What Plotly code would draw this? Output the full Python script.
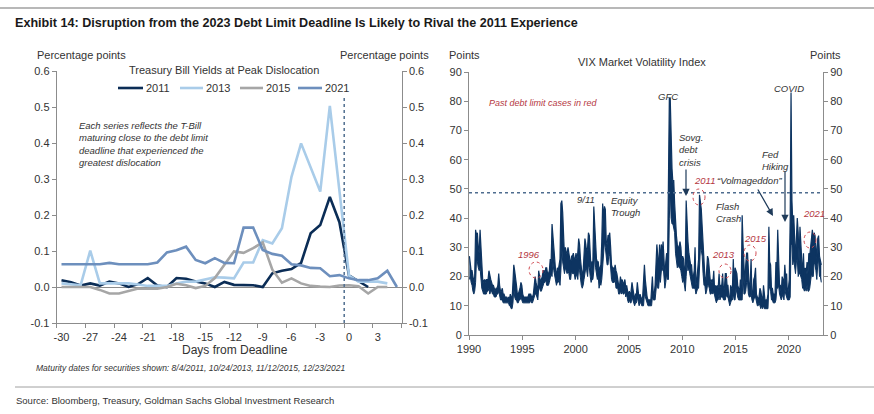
import plotly.graph_objects as go
import pandas as pd

# ---------------- data: left panel (T-bill yields, percentage points) ----------------
days = list(range(-30, 6))
y2011 = [0.019, 0.013, 0.004, 0.010, 0.004, 0.015, 0.010, 0.000, 0.008, 0.025, 0.004, 0.000,
         0.025, 0.023, 0.015, 0.010, 0.000, 0.014, 0.006, 0.005, 0.005, 0.000, 0.038, 0.045,
         0.050, 0.067, 0.149, 0.172, 0.250, 0.180, 0.032, 0.016, 0.000, None, None, None]
y2013 = [0.010, 0.007, 0.005, 0.101, 0.010, 0.010, 0.010, 0.010, 0.007, 0.003, 0.003, 0.003,
         0.010, 0.015, 0.015, 0.020, 0.027, 0.026, 0.024, 0.068, 0.068, 0.130, 0.121, 0.163,
         0.306, 0.399, 0.332, 0.265, 0.503, 0.270, 0.032, 0.015, 0.014, 0.015, 0.010, None]
y2015 = [0.000, 0.000, -0.002, 0.000, -0.008, -0.018, -0.018, -0.010, -0.004, -0.005, -0.005, 0.000,
         0.009, 0.005, -0.003, 0.003, 0.025, 0.062, 0.099, 0.095, 0.108, 0.124, 0.048, 0.012,
         0.024, 0.010, 0.003, 0.001, 0.000, 0.004, 0.005, 0.002, -0.018, 0.000, 0.000, None]
y2021 = [0.063, 0.063, 0.063, 0.064, 0.063, 0.067, 0.063, 0.063, 0.064, 0.063, 0.068, 0.096,
         0.102, 0.112, 0.075, 0.066, 0.080, 0.067, 0.066, 0.165, 0.165, 0.103, 0.092, 0.087,
         0.063, 0.060, 0.053, 0.052, 0.030, 0.033, 0.024, 0.019, 0.019, 0.024, 0.045, 0.000]
series_names = ["2011", "2013", "2015", "2021"]
left_ticks = list(range(-30, 4, 3))
left_tick_labels = ["-30", "-27", "-24", "-21", "-18", "-15", "-12", "-9", "-6", "-3", "0", "3"]
left_yticks = [-0.1, 0.0, 0.1, 0.2, 0.3, 0.4, 0.5, 0.6]
left_ytick_labels = ["-0.1", "0.0", "0.1", "0.2", "0.3", "0.4", "0.5", "0.6"]

# ---------------- data: right panel (VIX monthly high / low, from Jan 1990) ----------------
vix_high = [
    27, 25, 22, 22, 19, 18, 20, 36, 34, 35, 30, 28,   # 1990
    36, 28, 21, 19, 18, 19, 18, 19, 19, 19, 22, 20,   # 1991
    19, 18, 17, 17, 16, 15, 16, 16, 17, 21, 17, 15,   # 1992
    15, 16, 14, 14, 13, 13, 13, 12, 13, 12, 14, 13,   # 1993
    12, 18, 24, 22, 18, 17, 14, 14, 15, 16, 18, 17,   # 1994
    14, 13, 13, 13, 13, 13, 13, 14, 14, 14, 13, 13,   # 1995
    14, 19, 20, 18, 16, 15, 22, 20, 18, 19, 20, 22,   # 1996
    22, 21, 23, 23, 21, 21, 22, 26, 25, 38, 33, 27,   # 1997
    26, 22, 20, 23, 22, 24, 26, 45, 46, 42, 30, 27,   # 1998
    30, 28, 28, 30, 28, 25, 24, 27, 27, 28, 26, 26,   # 1999
    28, 26, 28, 33, 31, 26, 21, 20, 22, 31, 33, 31,   # 2000
    28, 30, 35, 34, 26, 22, 25, 25, 44, 36, 30, 26,   # 2001
    25, 25, 22, 23, 24, 32, 45, 40, 44, 43, 32, 31,   # 2002
    34, 34, 35, 30, 24, 23, 23, 22, 24, 22, 21, 19,   # 2003
    17, 17, 20, 18, 19, 17, 18, 19, 16, 17, 15, 14,   # 2004
    15, 13, 15, 18, 16, 13, 12, 14, 14, 18, 15, 12,   # 2005
    14, 13, 12, 13, 19, 24, 19, 15, 13, 12, 12, 12,   # 2006
    11, 18, 20, 14, 14, 17, 24, 31, 27, 22, 31, 25,   # 2007
    31, 28, 32, 26, 20, 25, 28, 24, 47, 81, 81, 61,   # 2008
    57, 52, 53, 45, 37, 34, 31, 30, 30, 32, 30, 25,   # 2009
    27, 26, 20, 24, 46, 36, 32, 28, 26, 24, 24, 20,   # 2010
    20, 22, 30, 17, 19, 22, 26, 48, 45, 43, 37, 30,   # 2011
    22, 20, 17, 21, 27, 26, 21, 19, 18, 19, 18, 22,   # 2012
    15, 17, 16, 17, 16, 21, 16, 17, 17, 21, 15, 16,   # 2013
    21, 21, 17, 17, 13, 12, 17, 16, 16, 26, 17, 23,   # 2014
    22, 21, 17, 16, 14, 19, 17, 41, 31, 24, 17, 24,   # 2015
    28, 28, 20, 16, 17, 26, 14, 14, 19, 20, 23, 14,   # 2016
    13, 12, 13, 16, 15, 12, 11, 17, 12, 11, 12, 12,   # 2017
    14, 37, 25, 24, 16, 16, 14, 14, 14, 25, 22, 36,   # 2018
    28, 17, 17, 14, 20, 19, 17, 24, 19, 21, 13, 16,   # 2019
    19, 40, 83, 46, 38, 41, 30, 26, 33, 40, 35, 25,   # 2020
    37, 28, 26, 20, 28, 19, 23, 21, 25, 21, 28, 27,   # 2021
    31, 33, 36, 33, 35, 34, 28, 26, 33, 34, 27, 25,   # 2022
    24,                                               # 2023
]
vix_low = [
    19, 20, 18, 17, 15, 14, 15, 18, 26, 25, 23, 22,   # 1990
    23, 18, 16, 15, 14, 14, 14, 14, 15, 15, 16, 14,   # 1991
    15, 15, 14, 14, 13, 13, 13, 14, 14, 15, 13, 12,   # 1992
    12, 12, 11, 11, 11, 11, 11, 11, 11, 10, 10, 9,    # 1993
    9, 11, 16, 13, 12, 12, 11, 11, 12, 12, 13, 12,    # 1994
    11, 11, 11, 11, 11, 11, 11, 11, 11, 12, 11, 11,   # 1995
    12, 13, 14, 14, 13, 12, 16, 16, 15, 15, 16, 17,   # 1996
    18, 18, 19, 17, 17, 17, 18, 20, 21, 20, 25, 22,   # 1997
    20, 18, 17, 18, 18, 19, 17, 22, 30, 25, 23, 21,   # 1998
    23, 22, 21, 22, 21, 19, 19, 22, 21, 21, 21, 19,   # 1999
    20, 21, 19, 23, 22, 18, 17, 16, 17, 19, 22, 23,   # 2000
    22, 20, 24, 23, 20, 18, 19, 19, 22, 28, 23, 20,   # 2001
    19, 20, 16, 18, 17, 19, 24, 27, 32, 30, 25, 24,   # 2002
    24, 28, 27, 22, 19, 18, 18, 18, 19, 16, 16, 16,   # 2003
    14, 14, 15, 14, 15, 14, 14, 15, 13, 14, 12, 11,   # 2004
    12, 11, 11, 13, 12, 11, 10, 11, 11, 13, 11, 10,   # 2005
    11, 11, 10, 10, 10, 14, 13, 12, 11, 10, 10, 10,   # 2006
    10, 10, 13, 12, 12, 12, 15, 19, 16, 16, 20, 18,   # 2007
    22, 22, 24, 18, 16, 18, 21, 19, 19, 40, 50, 40,   # 2008
    38, 38, 37, 35, 28, 26, 23, 24, 23, 23, 22, 20,   # 2009
    18, 19, 16, 15, 20, 25, 22, 23, 21, 19, 18, 16,   # 2010
    16, 16, 16, 14, 15, 16, 16, 22, 30, 29, 27, 21,   # 2011
    17, 17, 14, 15, 17, 17, 16, 14, 14, 15, 14, 15,   # 2012
    13, 12, 11, 12, 12, 14, 12, 13, 13, 13, 12, 12,   # 2013
    12, 14, 13, 13, 11, 10, 11, 12, 12, 14, 12, 12,   # 2014
    16, 14, 13, 12, 12, 12, 12, 12, 21, 14, 14, 15,   # 2015
    18, 18, 14, 13, 13, 14, 12, 11, 12, 13, 13, 11,   # 2016
    10, 10, 11, 10, 9, 10, 9, 10, 9, 9, 9, 9,         # 2017
    9, 17, 16, 15, 12, 12, 11, 11, 11, 12, 16, 16,    # 2018
    17, 14, 13, 12, 13, 14, 12, 16, 14, 13, 12, 12,   # 2019
    12, 13, 31, 31, 24, 26, 24, 21, 25, 26, 20, 21,   # 2020
    21, 20, 19, 16, 16, 15, 16, 15, 17, 15, 15, 16,   # 2021
    18, 21, 20, 20, 25, 24, 22, 19, 24, 26, 20, 20,   # 2022
    18,                                               # 2023
]
vix_start = "1990-01-01"
right_year_ticks = [1990, 1995, 2000, 2005, 2010, 2015, 2020]
right_yticks = list(range(0, 91, 10))
vix_threshold = 48.7

vix_dates = pd.date_range(vix_start, periods=len(vix_high), freq="MS") + pd.Timedelta(days=14)

# ---------------- styling ----------------
W, H = 874, 414
def PX(x): return x / W
def PY(y): return 1 - y / H

FONT = "Liberation Sans, Arial, sans-serif"
TXT = "#333333"
AX = "#8c8c8c"
NAVY = "#0d3461"
RED = "#b5373f"
colors = {"2011": "#0b2d56", "2013": "#a9cce9", "2015": "#a6a6a6", "2021": "#6d8fbd"}

fig = go.Figure()
for name, vals in zip(series_names, [y2011, y2013, y2015, y2021]):
    fig.add_trace(go.Scatter(x=days, y=vals, name=name, mode="lines",
                             line=dict(color=colors[name], width=2.6),
                             xaxis="x", yaxis="y", hoverinfo="skip", showlegend=False))
fig.add_trace(go.Scatter(x=[days[0]], y=[0], xaxis="x", yaxis="y2", mode="markers",
                         marker=dict(opacity=0), showlegend=False, hoverinfo="skip"))

fig.add_trace(go.Scatter(x=vix_dates, y=vix_low, mode="lines", line=dict(color=NAVY, width=1),
                         xaxis="x2", yaxis="y3", showlegend=False, hoverinfo="skip"))
fig.add_trace(go.Scatter(x=vix_dates, y=vix_high, mode="lines", line=dict(color=NAVY, width=1.2),
                         fill="tonexty", fillcolor=NAVY,
                         xaxis="x2", yaxis="y3", showlegend=False, hoverinfo="skip"))
fig.add_trace(go.Scatter(x=[vix_dates[0]], y=[0], xaxis="x2", yaxis="y4", mode="markers",
                         marker=dict(opacity=0), showlegend=False, hoverinfo="skip"))

tickfont = dict(family=FONT, size=11, color=TXT)
def axis(**kw):
    d = dict(showline=True, linecolor=AX, linewidth=1, showgrid=False, zeroline=False,
             ticks="outside", ticklen=4, tickcolor=AX, tickfont=tickfont, automargin=False)
    d.update(kw)
    return d

fig.update_layout(
    width=W, height=H, margin=dict(l=0, r=0, t=0, b=0, autoexpand=False),
    paper_bgcolor="white", plot_bgcolor="white",
    font=dict(family=FONT, size=11, color=TXT),
    xaxis=axis(domain=[PX(56.7), PX(401.7)], range=[-30.5, 5.5], anchor="y",
               tickvals=left_ticks, ticktext=left_tick_labels, tickcolor="rgba(0,0,0,0)",
               minor=dict(tick0=-30.5, dtick=3, ticks="outside", ticklen=4, tickcolor=AX)),
    yaxis=axis(domain=[PY(323), PY(71)], range=[-0.1, 0.6], anchor="x",
               tickvals=left_yticks, ticktext=left_ytick_labels,
               zeroline=True, zerolinecolor=AX, zerolinewidth=1),
    yaxis2=axis(overlaying="y", side="right", anchor="x", range=[-0.1, 0.6],
                tickvals=left_yticks, ticktext=left_ytick_labels),
    xaxis2=axis(domain=[PX(469), PX(823)], type="date", anchor="y3",
                range=["1990-01-01", "2023-03-15"],
                tickvals=[f"{y}-01-01" for y in right_year_ticks],
                ticktext=[str(y) for y in right_year_ticks]),
    yaxis3=axis(domain=[PY(335), PY(72)], range=[0, 90], anchor="x2", tickvals=right_yticks),
    yaxis4=axis(overlaying="y3", side="right", anchor="x2", range=[0, 90], tickvals=right_yticks),
    showlegend=False,
)

shapes = [
    dict(type="line", xref="paper", yref="paper", x0=0, x1=1, y0=PY(8), y1=PY(8),
         line=dict(color="#a0a0a0", width=1.5)),
    dict(type="line", xref="paper", yref="paper", x0=PX(15), x1=1, y0=PY(387), y1=PY(387),
         line=dict(color="#a0a0a0", width=1)),
    dict(type="line", xref="x", yref="y", x0=-0.5, x1=-0.5, y0=-0.1, y1=0.525,
         line=dict(color="#4f6d8f", width=1.5, dash="dot")),
    dict(type="line", xref="x2 domain", yref="y3", x0=0, x1=1, y0=vix_threshold, y1=vix_threshold,
         line=dict(color="#4f6d8f", width=1.5, dash="dot")),
]
for cx, cy, rx, ry in [(536, 270, 7, 8), (699, 197, 6, 8), (725, 271, 6, 7),
                       (750, 253, 6, 8), (810, 240, 6, 8)]:
    shapes.append(dict(type="circle", xref="paper", yref="paper",
                       x0=PX(cx - rx), x1=PX(cx + rx), y0=PY(cy + ry), y1=PY(cy - ry),
                       line=dict(color="#d0484f", width=1, dash="dot")))

ann = []
def T(text, x, y, xanchor="left", size=11, color=TXT, family=FONT, italic=False, bold=False,
      align="left", yanchor="middle"):
    t = text
    if bold:
        t = f"<b>{t}</b>"
    if italic:
        t = f"<i>{t}</i>"
    ann.append(dict(text=t, x=PX(x), y=PY(y), xref="paper", yref="paper", xanchor=xanchor,
                    yanchor=yanchor, showarrow=False, align=align,
                    font=dict(family=family, size=size, color=color)))

# legend (manual, matching the reference's compact key)
for name, (lx0, lx1, tx) in zip(series_names, [(118, 143, 144), (180, 203, 204),
                                               (240, 263, 264), (298, 322, 323)]):
    shapes.append(dict(type="line", xref="paper", yref="paper", x0=PX(lx0), x1=PX(lx1),
                       y0=PY(88), y1=PY(88), line=dict(color=colors[name], width=2.6)))
    T(name, tx, 88, size=11)
fig.update_layout(shapes=shapes)

T("Exhibit 14: Disruption from the 2023 Debt Limit Deadline Is Likely to Rival the 2011 Experience",
  13, 23, size=12.6, bold=True, color="#1a1a1a")
T("Percentage points", 35, 55)
T("Percentage points", 431, 55, xanchor="right")
T("Treasury Bill Yields at Peak Dislocation", 224, 70, xanchor="center")
T("Each series reflects the T-Bill<br>maturing close to the debt limit<br>deadline that experienced the<br>greatest dislocation",
  77, 144, size=9.5, italic=True)
T("Days from Deadline", 235, 350, xanchor="center", size=12)
T("Maturity dates for securities shown: 8/4/2011, 10/24/2013, 11/12/2015, 12/23/2021",
  34, 368, size=8.5, italic=True)
T("Source: Bloomberg, Treasury, Goldman Sachs Global Investment Research", 14, 400, size=9.5)

T("Points", 447, 55)
T("Points", 843, 55, xanchor="right")
T("VIX Market Volatility Index", 642, 62, xanchor="center")
T("Past debt limit cases in red", 487, 103, size=9, italic=True, color=RED)
T("GFC", 668, 96, xanchor="center", size=9.5, italic=True)
T("COVID", 789, 88, xanchor="center", size=9.5, italic=True)
T("Sovg.<br>debt<br>crisis", 677, 150, size=9.5, italic=True)
T("2011", 692, 181, size=9.5, italic=True, color=RED)
T("\u201cVolmageddon\u201d", 715, 181, size=9.5, italic=True)
T("9/11", 597, 200, xanchor="right", size=9.5, italic=True)
T("Equity<br>Trough", 609, 206, size=9.5, italic=True)
T("Flash<br>Crash", 714, 212, size=9.5, italic=True)
T("Fed<br>Hiking", 760, 161, size=9.5, italic=True)
T("2021", 801, 214, size=9.5, italic=True, color=RED)
T("1996", 529, 255, xanchor="center", size=9.5, italic=True, color=RED)
T("2013", 723, 255, xanchor="center", size=9.5, italic=True, color=RED)
T("2015", 755, 238, xanchor="center", size=9.5, italic=True, color=RED)

for hx, hy, ax, ay in [(686, 196, 0, -28), (785, 222, 0, -52), (773, 216, -16, -28)]:
    ann.append(dict(text="", x=PX(hx), y=PY(hy), xref="paper", yref="paper", showarrow=True,
                    ax=ax, ay=ay, arrowhead=2, arrowsize=1.2, arrowwidth=1.2,
                    arrowcolor="#1f3b5a"))
fig.update_layout(annotations=ann)

fig.write_html("out.html", config={"displayModeBar": False, "staticPlot": True},
               post_script="document.body.style.margin='0';document.body.style.overflow='hidden';")
